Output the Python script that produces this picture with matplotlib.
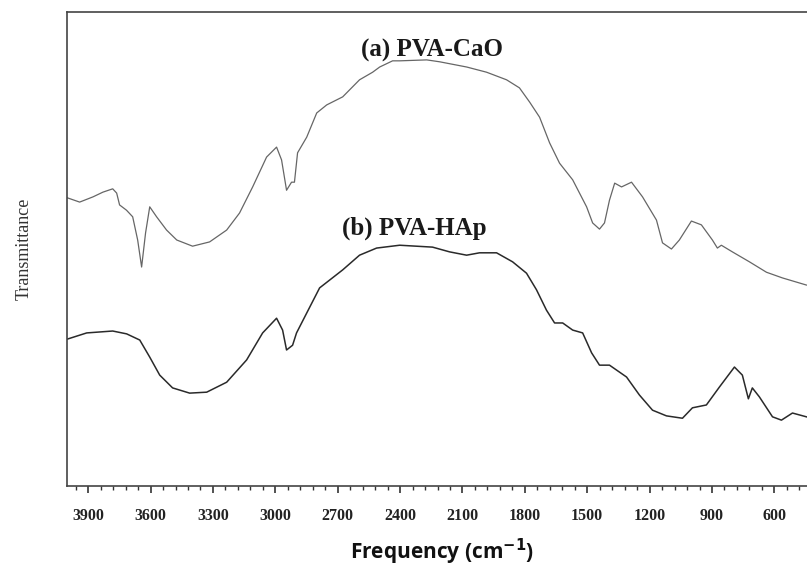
import matplotlib
matplotlib.use("Agg")
import matplotlib.pyplot as plt
from matplotlib.ticker import MultipleLocator, NullLocator

# FTIR spectra, wavenumber (cm^-1) vs transmittance (arb. units)
CAO_WN = [4000, 3941, 3877, 3829, 3782, 3763, 3749, 3716, 3686, 3662, 3643, 3624,
          3604, 3571, 3523, 3474, 3398, 3316, 3234, 3172, 3109, 3042, 2994, 2970,
          2946, 2922, 2908, 2893, 2849, 2801, 2753, 2676, 2595, 2532, 2498, 2436,
          2402, 2272, 2210, 2080, 1984, 1888, 1826, 1777, 1729, 1681, 1633, 1570,
          1503, 1474, 1441, 1417, 1393, 1368, 1335, 1287, 1234, 1167, 1138, 1095,
          1057, 999, 951, 898, 874, 855, 802, 720, 638, 561, 446]
CAO_T = [60.8, 59.9, 61.0, 62.0, 62.7, 61.8, 59.3, 58.2, 56.8, 51.9, 46.2, 53.4,
         58.9, 56.8, 54.0, 51.9, 50.6, 51.5, 54.0, 57.6, 63.1, 69.4, 71.5, 68.8,
         62.4, 64.1, 64.1, 70.3, 73.6, 78.7, 80.4, 82.1, 85.7, 87.3, 88.4, 89.7,
         89.7, 89.9, 89.5, 88.4, 87.3, 85.7, 84.0, 81.0, 77.8, 72.4, 68.1, 64.6,
         58.9, 55.5, 54.2, 55.5, 60.3, 63.9, 63.1, 64.1, 61.0, 56.1, 51.3, 50.0,
         51.9, 55.9, 55.1, 51.9, 50.2, 50.8, 49.4, 47.3, 45.1, 43.9, 42.4]

HAP_WN = [4000, 3907, 3782, 3715, 3652, 3604, 3556, 3494, 3412, 3330, 3234, 3138,
          3061, 2994, 2965, 2946, 2917, 2898, 2849, 2787, 2676, 2595, 2513, 2402,
          2244, 2162, 2080, 2018, 1936, 1859, 1792, 1744, 1696, 1657, 1618, 1570,
          1522, 1479, 1441, 1393, 1311, 1249, 1186, 1119, 1042, 994, 927, 864,
          792, 754, 725, 706, 672, 609, 566, 513, 446]
HAP_T = [31.0, 32.3, 32.7, 32.1, 30.8, 27.2, 23.4, 20.7, 19.6, 19.8, 21.9, 26.6,
         32.3, 35.4, 32.9, 28.7, 29.7, 32.3, 36.5, 41.8, 45.6, 48.7, 50.2, 50.8,
         50.4, 49.4, 48.7, 49.2, 49.2, 47.3, 44.9, 41.4, 37.1, 34.4, 34.4, 32.9,
         32.3, 28.1, 25.5, 25.5, 23.0, 19.2, 16.0, 14.8, 14.3, 16.5, 17.1, 20.9,
         25.1, 23.4, 18.4, 20.7, 18.8, 14.6, 13.9, 15.4, 14.6]

LABELS = ["(a) PVA-CaO", "(b) PVA-HAp"]
LABEL_POS = [(2248, 90.5), (2330, 53.0)]

SERIF = ["Liberation Serif", "DejaVu Serif"]

fig = plt.figure(figsize=(8.07, 5.72), dpi=100)
ax = fig.add_axes([0.0835, 0.1503, 0.9276, 0.8287])

ax.plot(CAO_WN, CAO_T, color="#666666", lw=0.9)
ax.plot(HAP_WN, HAP_T, color="#2a2a2a", lw=1.1)

for text, (x, y) in zip(LABELS, LABEL_POS):
    ax.text(x, y, text, ha="center", va="baseline", fontsize=18,
            fontweight="bold", family=SERIF, color="#1a1a1a")

ax.set_xlim(4000, 400)
ax.set_ylim(0, 100)

ax.xaxis.set_major_locator(MultipleLocator(300))
ax.xaxis.set_minor_locator(MultipleLocator(60))
ax.yaxis.set_major_locator(NullLocator())
ax.tick_params(axis="x", which="major", direction="out", length=5, width=1.2,
               pad=11, colors="#333333", labelsize=11.5)
ax.tick_params(axis="x", which="minor", direction="out", length=3, width=1.0,
               colors="#333333")
for lbl in ax.get_xticklabels():
    lbl.set_family(SERIF)
    lbl.set_fontweight("bold")
    lbl.set_color("#222222")

for side in ["left", "top", "bottom"]:
    ax.spines[side].set_linewidth(1.2)
    ax.spines[side].set_color("#444444")
ax.spines["right"].set_visible(False)

ax.set_xlabel("Frequency (cm$^{\\mathbf{-1}}$)", fontsize=15, fontweight="bold",
              family="Open Sans", labelpad=9, color="#111111")
ax.set_ylabel("Transmittance", fontsize=13, family=SERIF, labelpad=25,
              color="#333333")

fig.savefig("out.png", dpi=100)
